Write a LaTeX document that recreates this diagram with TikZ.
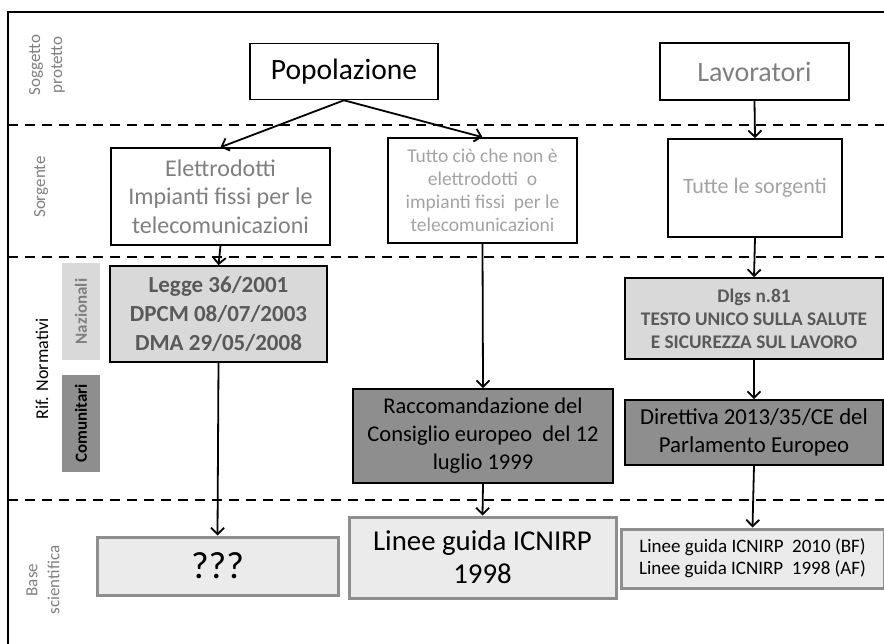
\documentclass[tikz,border=0pt]{standalone}
\usepackage{fontspec}
\setmainfont{Carlito}
\usepackage{tikz}
\usetikzlibrary{arrows.meta}
\definecolor{lightfill}{HTML}{D9D9D9}
\definecolor{darkfill}{HTML}{8E8E8E}
\definecolor{basefill}{HTML}{EBEBEB}
\definecolor{graytext}{HTML}{7F7F7F}
\definecolor{palegray}{HTML}{A3A3A3}
\definecolor{boldgray}{HTML}{595959}
\newcommand{\fs}[2]{\fontsize{#1}{#2}\selectfont}

\begin{document}
\begin{tikzpicture}[x=1pt,y=-1pt,
    box/.style={draw,line width=1.6pt,align=center,inner sep=0pt},
    basebox/.style={draw=darkfill,fill=basefill,line width=3pt,align=center,inner sep=0pt},
    level/.style={dash pattern=on 10pt off 7pt,line width=2pt},
    side/.style={rotate=90,align=center,text=graytext},
    link/.style={->,line width=1.8pt},
    >={Straight Barb[length=6.5pt,width=13pt]}]
      \useasboundingbox (0,0) rectangle (884,644);
      %% frame and levels
      \draw[line width=2.2pt] (8,644) -- (8,12) -- (884,12);
      \draw[level] (8,125) -- (884,125);
      \draw[level] (8,257) -- (884,257);
      \draw[level] (8,500) -- (884,500);
      %% side labels
      \node[side,font=\fs{17}{22}] (sogg) at (47,65) {Soggetto\\protetto};
      \node[side,font=\fs{17}{22}] (sorg) at (41,187) {Sorgente};
      \node[side,text=black,font=\fs{18}{22}] (rif) at (42,369) {Rif. Normativi};
      \node[side,fill=lightfill,minimum width=97pt,minimum height=38pt,font=\fs{17}{18}\bfseries] (naz) at (81,311.5) {Nazionali};
      \node[side,fill=darkfill,text=black,minimum width=97pt,minimum height=38pt,font=\fs{17}{18}\bfseries] (com) at (81,423.5) {Comunitari};
      \node[side,font=\fs{17}{22}] (base) at (43,580) {Base\\scientifica};
      %% protected subject
      \node[box,minimum width=188pt,minimum height=56pt,font=\fs{29.5}{34}] (pop) at (344,71.5) {Popolazione};
      \node[box,text=graytext,minimum width=189pt,minimum height=57pt,font=\fs{28}{34}] (lav) at (754.5,71.5) {Lavoratori};
      %% sources
      \node[box,text=graytext,minimum width=219pt,minimum height=97pt,font=\fs{24}{28.5}] (elet) at (220.5,196.5) {Elettrodotti\\Impianti fissi per le\\telecomunicazioni};
      \node[box,text=palegray,minimum width=189pt,minimum height=105pt,font=\fs{19.5}{23}] (tutto) at (482.5,190.5) {Tutto ciò che non è\\elettrodotti~~o\\impianti fissi~~per le\\telecomunicazioni};
      \node[box,text=palegray,minimum width=174pt,minimum height=98pt,font=\fs{22}{24}] (tutte) at (755,188) {Tutte le sorgenti};
      %% national rules
      \node[box,fill=lightfill,text=boldgray,minimum width=217pt,minimum height=96pt,font=\fs{23}{29}\bfseries] (legge) at (218.5,314) {Legge 36/2001\\DPCM 08/07/2003\\DMA 29/05/2008};
      \node[box,fill=lightfill,text=boldgray,minimum width=258pt,minimum height=81pt,font=\fs{19.3}{23}\bfseries] (dlgs) at (754,318.5) {Dlgs n.81\\TESTO UNICO SULLA SALUTE\\E SICUREZZA SUL LAVORO};
      %% community rules
      \node[box,fill=darkfill,minimum width=260pt,minimum height=94pt,font=\fs{22.5}{28}] (racc) at (483,436) {Raccomandazione del\\Consiglio europeo~~del 12\\luglio 1999};
      \node[box,fill=darkfill,minimum width=258pt,minimum height=65pt,font=\fs{22.8}{28}] (dir) at (754,432.5) {Direttiva 2013/35/CE del\\Parlamento Europeo};
      %% scientific basis
      \node[basebox,minimum width=241pt,minimum height=58pt,font=\fs{38}{40}] (qqq) at (217.5,566) {???};
      \node[basebox,minimum width=267pt,minimum height=81pt,font=\fs{28.8}{33}] (lg98) at (482.5,557.5) {Linee guida ICNIRP\\1998};
      \node[basebox,minimum width=263pt,minimum height=59pt,font=\fs{19}{22}] (lg10) at (752.5,558.5) {Linee guida ICNIRP~~2010 (BF)\\Linee guida ICNIRP~~1998 (AF)};
      %% arrows
      \draw[link] (pop.south) -- (elet.north);
      \draw[link] (pop.south) -- (tutto.north);
      \draw[link] (lav.south) -- (tutte.north);
      \draw[link] (elet.south) -- (legge.north);
      \draw[link] (legge.south) -- (qqq.north);
      \draw[link] (tutto.south) -- (racc.north);
      \draw[link] (racc.south) -- (lg98.north);
      \draw[link] (tutte.south) -- (dlgs.north);
      \draw[link] (dlgs.south) -- (dir.north);
      \draw[link] (dir.south) -- (lg10.north);
\end{tikzpicture}
\end{document}
